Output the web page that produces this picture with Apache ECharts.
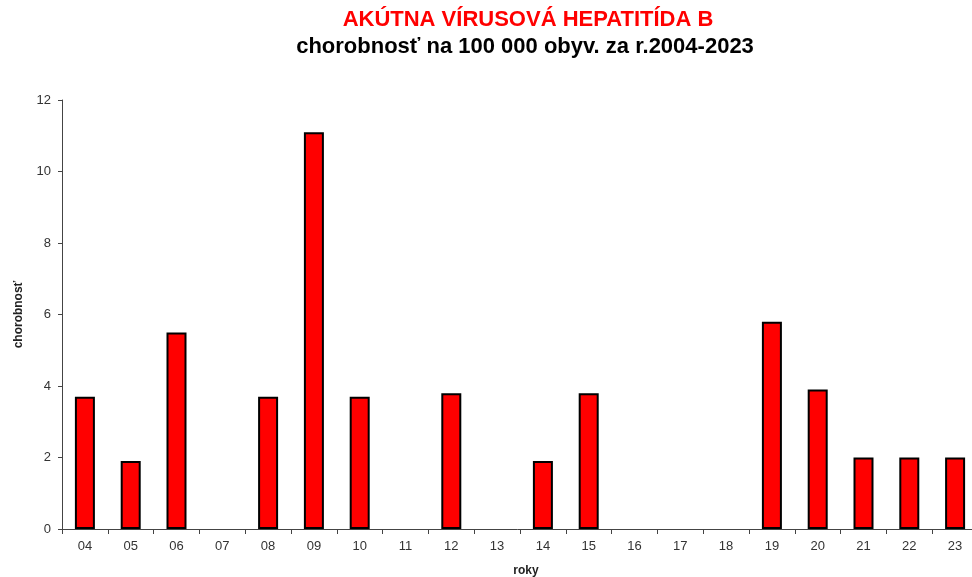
<!DOCTYPE html>
<html>
<head>
<meta charset="utf-8">
<script src="https://cdn.jsdelivr.net/npm/echarts@6/dist/echarts.min.js"></script>
<style>
  html, body { margin: 0; padding: 0; background: #fff; }
  #chart { width: 972px; height: 577px; }
</style>
</head>
<body>
<div id="chart"></div>
<script>
// roky 2004-2023
var years = ['04', '05', '06', '07', '08', '09', '10', '11', '12', '13',
             '14', '15', '16', '17', '18', '19', '20', '21', '22', '23'];
// chorobnosť na 100 000 obyv.
var rates = [3.7, 1.9, 5.5, 0, 3.7, 11.1, 3.7, 0, 3.8, 0,
             1.9, 3.8, 0, 0, 0, 5.8, 3.9, 2.0, 2.0, 2.0];
var yTicks = [0, 2, 4, 6, 8, 10, 12];

var font = '"Liberation Sans", Arial, sans-serif';
var chart = echarts.init(document.getElementById('chart'));

// nulove roky bez obrysu
var barData = rates.map(function (v) {
    return v === 0 ? { value: v, itemStyle: { borderWidth: 0 } } : v;
});

chart.setOption({
    animation: false,
    textStyle: { fontFamily: font },
    title: [{
        text: 'AKÚTNA VÍRUSOVÁ HEPATITÍDA B',
        left: 523,
        top: 4,
        textAlign: 'center',
        textStyle: { color: '#ff0000', fontSize: 22, fontWeight: 'bold', fontFamily: font }
    }, {
        text: 'chorobnosť na 100 000 obyv. za r.2004-2023',
        left: 520,
        top: 31,
        textAlign: 'center',
        textStyle: { color: '#000', fontSize: 22, fontWeight: 'bold', fontFamily: font }
    }],
    grid: {
        left: 62,
        width: 916,
        top: 100,
        bottom: 48,
        outerBoundsMode: 'none',
        containLabel: false
    },
    xAxis: {
        type: 'category',
        data: years,
        name: 'roky',
        nameLocation: 'middle',
        nameGap: 36,
        nameTextStyle: { color: '#222', fontSize: 12, fontWeight: 'bold', padding: [0, 0, 0, 12] },
        axisLine: { lineStyle: { color: '#444', width: 1 } },
        axisTick: { show: true, length: 5, lineStyle: { color: '#444' } },
        axisLabel: { color: '#333', fontSize: 13, margin: 11 }
    },
    yAxis: {
        type: 'value',
        min: yTicks[0],
        max: yTicks[yTicks.length - 1],
        interval: 2,
        name: 'chorobnosť',
        nameLocation: 'middle',
        nameGap: 37,
        nameTextStyle: { color: '#222', fontSize: 12, fontWeight: 'bold' },
        axisLine: { show: true, lineStyle: { color: '#444', width: 1 } },
        axisTick: { show: true, length: 4, lineStyle: { color: '#444' } },
        axisLabel: { color: '#333', fontSize: 13, margin: 11 },
        splitLine: { show: false }
    },
    series: [{
        name: 'chorobnosť',
        type: 'bar',
        data: barData,
        barWidth: 20,
        itemStyle: { color: '#ff0000', borderColor: '#000', borderWidth: 2 }
    }]
});
</script>
</body>
</html>
